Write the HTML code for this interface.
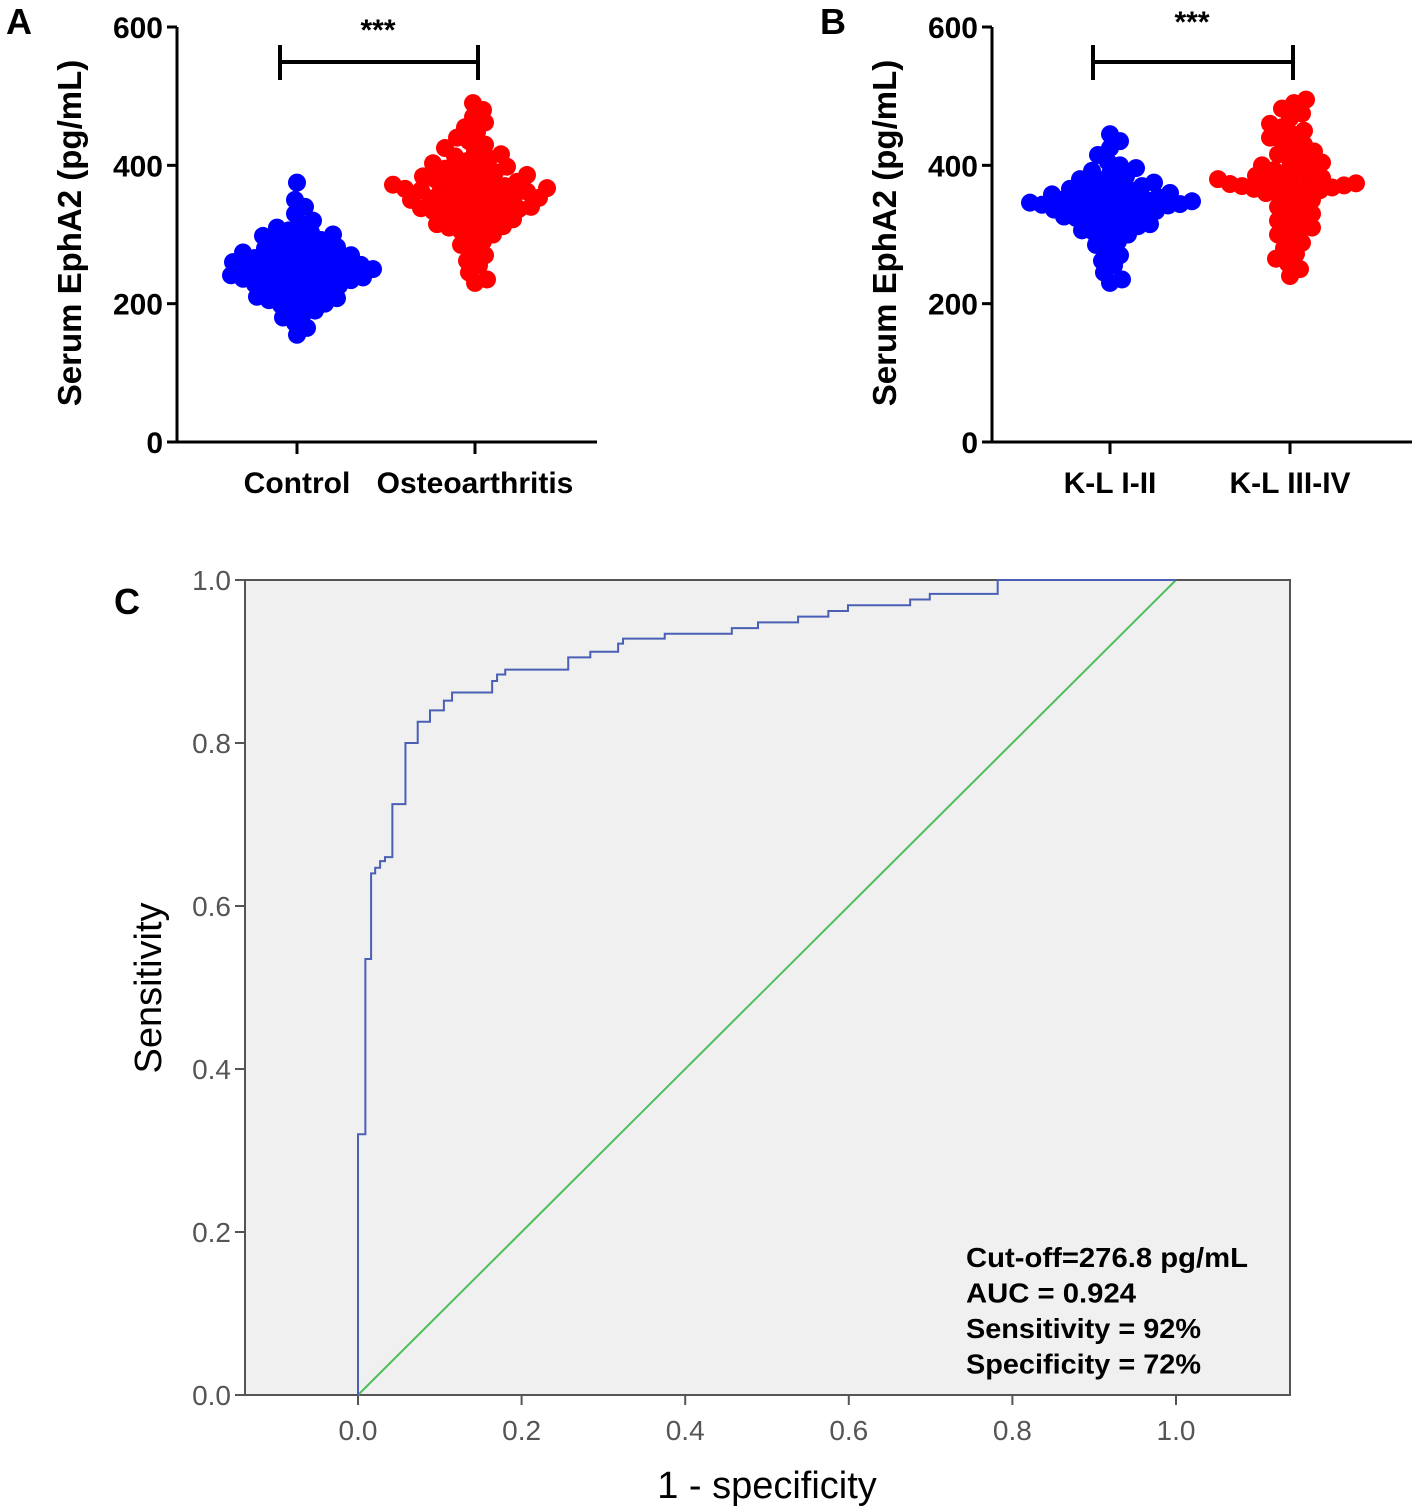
<!DOCTYPE html>
<html><head><meta charset="utf-8">
<style>
html,body{margin:0;padding:0;background:#fff;}
svg{display:block;font-family:"Liberation Sans",Arial,sans-serif;}
</style></head>
<body>
<svg id="fig" width="1418" height="1512" viewBox="0 0 1418 1512" xmlns="http://www.w3.org/2000/svg">
</svg>
<script>
// ---- Data ----
const groupsA = ["Control", "Osteoarthritis"];
const controlValues = [155,165,172,180,185,190,195,198,200,203,205,208,210,212,215,218,220,222,225,226,228,230,232,234,235,236,238,240,241,242,244,245,246,248,250,250,252,253,255,256,258,260,260,262,263,265,266,268,270,272,274,275,278,280,282,285,288,290,292,295,298,300,303,306,310,315,320,330,340,350,375];
const oaValues = [230,235,245,255,262,270,278,285,290,295,300,305,308,310,312,315,318,320,322,325,328,330,332,334,335,337,338,340,342,344,345,347,348,350,352,353,355,356,358,360,361,362,364,365,366,367,368,370,372,373,375,376,378,380,382,384,386,388,390,392,395,398,400,403,406,410,413,416,420,425,430,435,440,448,455,462,470,480,490];
const groupsB = ["K-L I-II", "K-L III-IV"];
const klLowValues = [230,235,245,255,262,270,278,285,290,295,300,303,306,310,312,315,318,320,322,324,326,328,330,332,334,335,336,338,340,341,342,343,344,345,346,347,348,350,351,352,354,355,356,358,360,362,364,366,368,370,372,375,378,380,384,388,392,396,400,405,415,425,435,445];
const klHighValues = [240,250,258,265,272,280,288,295,300,305,310,315,320,325,330,335,340,345,350,355,358,360,362,364,366,368,370,371,372,373,374,375,376,378,380,382,385,388,390,393,396,400,404,408,412,416,420,425,430,435,440,445,450,455,460,468,475,482,490,495];
const mediansA = [262, 362];
const mediansB = [345, 373];
const yTicks = [0, 200, 400, 600];
// ROC curve (fpr, tpr)
const rocFpr = [0,0,0.009,0.009,0.016,0.016,0.021,0.021,0.027,0.027,0.033,0.033,0.042,0.042,0.058,0.058,0.073,0.073,0.088,0.088,0.105,0.105,0.115,0.115,0.164,0.164,0.170,0.170,0.180,0.180,0.257,0.257,0.284,0.284,0.318,0.318,0.324,0.324,0.375,0.375,0.457,0.457,0.489,0.489,0.538,0.538,0.575,0.575,0.599,0.599,0.675,0.675,0.699,0.699,0.782,0.782,1.0];
const rocTpr = [0,0.32,0.32,0.535,0.535,0.64,0.64,0.647,0.647,0.655,0.655,0.66,0.66,0.725,0.725,0.80,0.80,0.826,0.826,0.84,0.84,0.852,0.852,0.862,0.862,0.876,0.876,0.884,0.884,0.89,0.89,0.905,0.905,0.912,0.912,0.922,0.922,0.928,0.928,0.934,0.934,0.941,0.941,0.948,0.948,0.955,0.955,0.962,0.962,0.969,0.969,0.976,0.976,0.983,0.983,1.0,1.0];
const rocTicks = [0, 0.2, 0.4, 0.6, 0.8, 1.0];
const annotations = ["Cut-off=276.8 pg/mL","AUC = 0.924","Sensitivity = 92%","Specificity = 72%"];

const svg = document.getElementById('fig');
const NS = "http://www.w3.org/2000/svg";
function mk(tag, attrs, parent){ const e=document.createElementNS(NS,tag); for(const k in attrs) e.setAttribute(k,attrs[k]); (parent||svg).appendChild(e); return e; }
function txt(s, attrs, parent){ const e=mk('text',attrs,parent); e.textContent=s; return e; }

function swarm(values, cx, yScale, r, color, g){
  const placed=[];
  const sorted=values.slice().sort((a,b)=>a-b);
  const md=2*r*0.66;
  sorted.forEach(v=>{
    const y=yScale(v);
    let best=0;
    for(let k=0;k<80;k++){
      const cands = k===0?[0]:[k*2,-k*2];
      let found=null;
      for(const dx of cands){
        let ok=true;
        for(const p of placed){ const ddx=p.x-dx, ddy=p.y-y; if(ddx*ddx+ddy*ddy<md*md){ok=false;break;} }
        if(ok){found=dx;break;}
      }
      if(found!==null){best=found;break;}
    }
    placed.push({x:best,y:y});
    const c=mk('circle',{cx:cx+best,cy:y,r:r,fill:color},g);
    
    
  });
}

function dotPanel(opt){
  const g=mk('g',{});
  
  
  const y0=442, y600=27;
  const ys=v=>y0-(v/600)*(y0-y600);
  const ax=opt.axisX;
  const yAxis=mk('line',{x1:ax,y1:y600,x2:ax,y2:y0+1,stroke:'#000','stroke-width':3},g);
   
  const xAxis=mk('line',{x1:ax-1,y1:y0,x2:ax+420,y2:y0,stroke:'#000','stroke-width':3},g);
   
  yTicks.forEach(t=>{
    mk('line',{x1:ax-10,y1:ys(t),x2:ax,y2:ys(t),stroke:'#000','stroke-width':3},g);
    const l=txt(String(t),{x:ax-14,y:ys(t)+11,'text-anchor':'end','font-size':30,'font-weight':'bold'},g);
     
  });
  const yl=txt('Serum EphA2 (pg/mL)',{x:0,y:0,transform:`translate(${ax-96},233) rotate(-90)`,'text-anchor':'middle','font-size':33,'font-weight':'bold'},g);
   
  opt.groups.forEach((gn,i)=>{
    const cx=opt.xs[i];
    mk('line',{x1:cx,y1:y0,x2:cx,y2:y0+12,stroke:'#000','stroke-width':3},g);
    const l=txt(gn,{x:cx,y:493,'text-anchor':'middle','font-size':30,'font-weight':'bold'},g);
     
    const m=mk('line',{x1:cx-60,y1:ys(opt.medians[i]),x2:cx+60,y2:ys(opt.medians[i]),stroke:'#222','stroke-width':3},g);
     
    swarm(opt.values[i],cx,ys,9,i===0?'#0000ff':'#ff0000',g);
  });
  const s=mk('path',{d:`M${opt.xs[0]-17},45 V80 M${opt.xs[0]-17},62 H${opt.xs[1]+3} M${opt.xs[1]+3},45 V80`,stroke:'#000','stroke-width':4,fill:'none'},g);
   
  const st=txt('***',{x:(opt.xs[0]+opt.xs[1])/2-8,y:opt.starY,'text-anchor':'middle','font-size':30,'font-weight':'bold'},g);
   
  const pl=txt(opt.letter,{x:opt.letterX,y:34,'font-size':36,'font-weight':'bold'},g);
   
}
dotPanel({name:'panel-a',axisX:177,xs:[297,475],groups:groupsA,values:[controlValues,oaValues],medians:mediansA,letter:'A',letterX:6,starY:40});
dotPanel({name:'panel-b',axisX:992,xs:[1110,1290],groups:groupsB,values:[klLowValues,klHighValues],medians:mediansB,letter:'B',letterX:820,starY:32});

// ---- ROC panel ----
(function(){
  const g=mk('g',{});
  
  
  const X0=358, X1=1176, Y0=1395, Y1=580;
  const xs=v=>X0+v*(X1-X0), ys=v=>Y0-v*(Y0-Y1);
  const bg=mk('rect',{x:245,y:580,width:1045,height:815,fill:'#f0f0f0',stroke:'#555','stroke-width':2},g);
   
  rocTicks.forEach(t=>{
    mk('line',{x1:235,y1:ys(t),x2:245,y2:ys(t),stroke:'#555','stroke-width':2},g);
    const l=txt(t.toFixed(1),{x:231,y:ys(t)+10,'text-anchor':'end','font-size':28,fill:'#555'},g);
     
    mk('line',{x1:xs(t),y1:1395,x2:xs(t),y2:1405,stroke:'#555','stroke-width':2},g);
    const lx=txt(t.toFixed(1),{x:xs(t),y:1440,'text-anchor':'middle','font-size':28,fill:'#555'},g);
     
  });
  const ref=mk('line',{x1:xs(0),y1:ys(0),x2:xs(1),y2:ys(1),stroke:'#4dbf5a','stroke-width':2},g);
   
  const pts=rocFpr.map((f,i)=>xs(f)+','+ys(rocTpr[i])).join(' ');
  const c=mk('polyline',{points:pts,fill:'none',stroke:'#4a5fb5','stroke-width':2},g);
   
  const yl=txt('Sensitivity',{x:0,y:0,transform:'translate(161,988) rotate(-90)','text-anchor':'middle','font-size':38},g);
   
  const xl=txt('1 - specificity',{x:767,y:1498,'text-anchor':'middle','font-size':38},g);
   
  annotations.forEach((a,i)=>{
    const t=txt(a,{x:966,y:1267+i*35.5,'font-size':28,'font-weight':'bold',textLength:[282,170,235,235][i],lengthAdjust:'spacingAndGlyphs'},g);
     
  });
  const pl=txt('C',{x:114,y:614,'font-size':36,'font-weight':'bold'},g);
   
})();
</script>
</body></html>
